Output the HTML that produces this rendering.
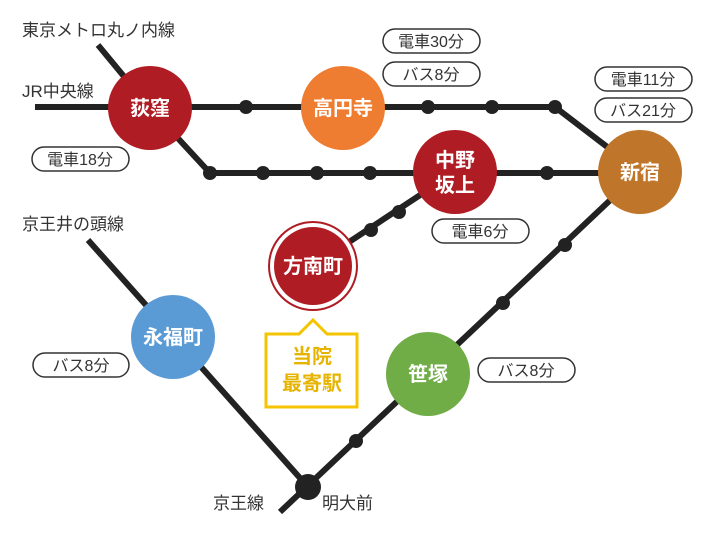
<!DOCTYPE html>
<html><head><meta charset="utf-8"><style>
html,body{margin:0;padding:0;background:#fff;}
svg{display:block;}
text{font-family:"Liberation Sans","Noto Sans CJK JP",sans-serif;}
.lb{font-size:17px;fill:#333;}
.pill{fill:#fff;stroke:#333;stroke-width:1.5;}
.pt{font-size:16px;fill:#333;text-anchor:middle;}
.ct{font-size:20px;fill:#fff;font-weight:bold;text-anchor:middle;}
</style></head><body>
<svg width="710" height="534" viewBox="0 0 710 534">
<g stroke="#222" stroke-width="6" fill="none" stroke-linecap="butt">
<polyline points="98,45 150,108 210,173 640,173"/>
<polyline points="35,107 555,107 640,172"/>
<line x1="455" y1="172" x2="340" y2="248"/>
<line x1="88" y1="240" x2="308" y2="487"/>
<line x1="280" y1="512" x2="640" y2="172"/>
</g>
<g fill="#222">
<circle cx="210" cy="173" r="7"/><circle cx="263" cy="173" r="7"/><circle cx="317" cy="173" r="7"/><circle cx="370" cy="173" r="7"/><circle cx="547" cy="173" r="7"/>
<circle cx="246" cy="107" r="7"/><circle cx="428" cy="107" r="7"/><circle cx="492" cy="107" r="7"/><circle cx="555" cy="107" r="7"/>
<circle cx="399" cy="212" r="7"/><circle cx="371" cy="230" r="7"/>
<circle cx="356" cy="441" r="7"/><circle cx="503" cy="303" r="7"/><circle cx="565" cy="245" r="7"/>
<circle cx="308" cy="487" r="13"/>
</g>
<circle cx="150" cy="108" r="42" fill="#b01c24"/>
<circle cx="343" cy="108" r="42" fill="#ee7d31"/>
<circle cx="455" cy="172" r="42" fill="#b01c24"/>
<circle cx="640" cy="172" r="42" fill="#c0762a"/>
<circle cx="313" cy="266" r="44" fill="#fff" stroke="#b01c24" stroke-width="2"/>
<circle cx="313" cy="266" r="39" fill="#b01c24"/>
<circle cx="173" cy="337" r="42" fill="#5b9bd5"/>
<circle cx="428" cy="374" r="42" fill="#70ad47"/>
<text class="ct" x="150" y="115">荻窪</text>
<text class="ct" x="343" y="115">高円寺</text>
<text class="ct" x="455" y="167">中野</text>
<text class="ct" x="455" y="192">坂上</text>
<text class="ct" x="640" y="179">新宿</text>
<text class="ct" x="313" y="273">方南町</text>
<text class="ct" x="173" y="344">永福町</text>
<text class="ct" x="428" y="381">笹塚</text>
<path d="M266,334 H299 L313,320 L327,334 H357 V407 H266 Z" fill="#fff" stroke="#f5c400" stroke-width="3"/>
<text x="312" y="363" style="font-size:20px;font-weight:bold;fill:#e6b400;text-anchor:middle">当院</text>
<text x="312" y="390" style="font-size:20px;font-weight:bold;fill:#e6b400;text-anchor:middle">最寄駅</text>
<rect class="pill" x="383" y="29" width="97" height="24" rx="12"/><text class="pt" x="431" y="47">電車30分</text>
<rect class="pill" x="383" y="62" width="97" height="24" rx="12"/><text class="pt" x="431" y="80">バス8分</text>
<rect class="pill" x="595" y="67" width="97" height="24" rx="12"/><text class="pt" x="643" y="85">電車11分</text>
<rect class="pill" x="595" y="98" width="97" height="24" rx="12"/><text class="pt" x="643" y="116">バス21分</text>
<rect class="pill" x="32" y="147" width="97" height="24" rx="12"/><text class="pt" x="80" y="165">電車18分</text>
<rect class="pill" x="432" y="219" width="97" height="24" rx="12"/><text class="pt" x="480" y="237">電車6分</text>
<rect class="pill" x="33" y="353" width="96" height="24" rx="12"/><text class="pt" x="81" y="371">バス8分</text>
<rect class="pill" x="478" y="358" width="97" height="24" rx="12"/><text class="pt" x="526" y="376">バス8分</text>
<text class="lb" x="22" y="36">東京メトロ丸ノ内線</text>
<text class="lb" x="22" y="97">JR中央線</text>
<text class="lb" x="22" y="230">京王井の頭線</text>
<text class="lb" x="213" y="509">京王線</text>
<text class="lb" x="322" y="509">明大前</text>
</svg>
</body></html>
